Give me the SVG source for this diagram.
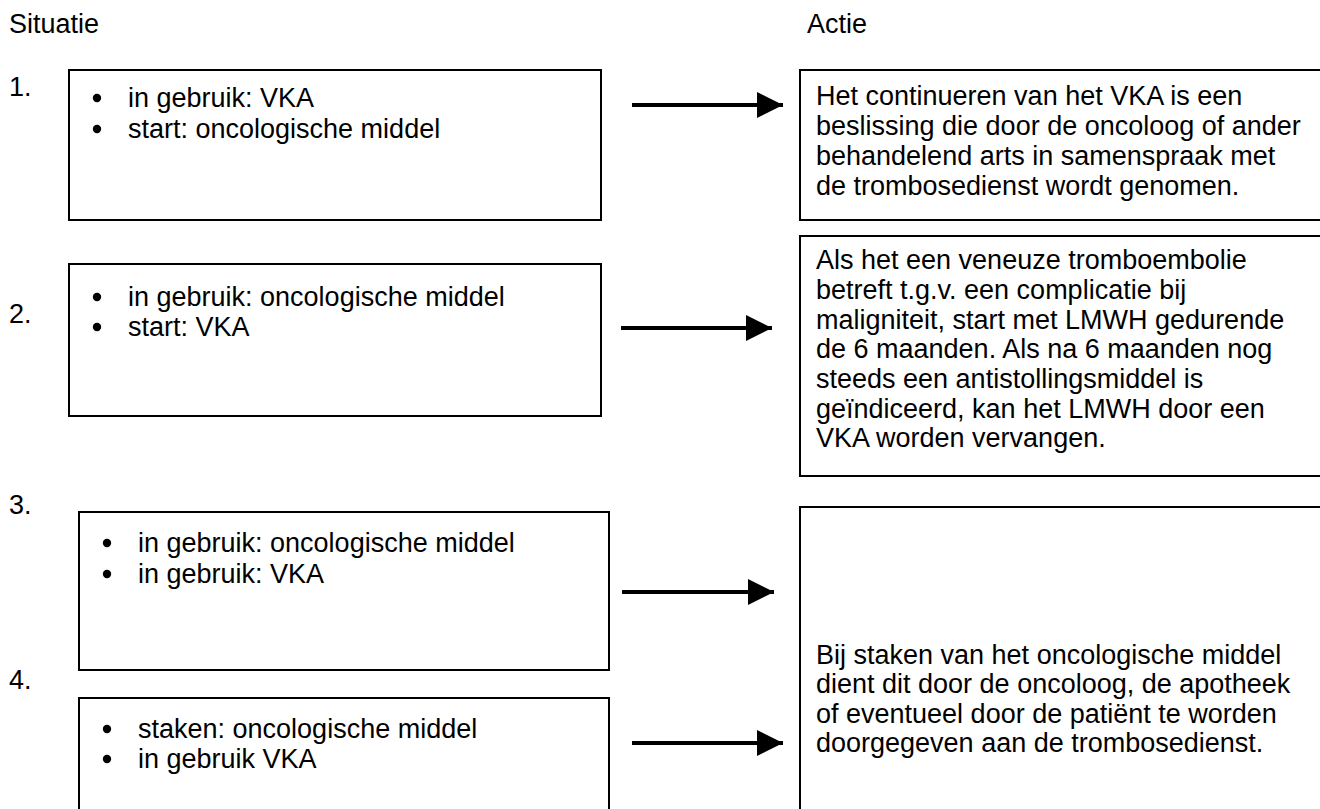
<svg xmlns="http://www.w3.org/2000/svg" width="1320" height="809" viewBox="0 0 1320 809">
<defs>
<style>
text{font-family:"Liberation Sans",Arial,sans-serif;font-size:27px;fill:#000}
.box{fill:#fff;stroke:#000;stroke-width:2}
.arr{stroke:#000;stroke-width:4;fill:none}
.dot{fill:#000}
</style>
<marker id="ah" markerUnits="userSpaceOnUse" markerWidth="26" markerHeight="26" refX="26" refY="13" orient="auto"><path d="M0,0 L26,13 L0,26 Z" fill="#000"/></marker>
</defs>
<rect width="1320" height="809" fill="#fff"/>
<g id="headers">
<text x="9" y="33">Situatie</text>
<text x="807" y="33">Actie</text>
</g>
<g id="s1">
<text x="9" y="96">1.</text>
<rect class="box" x="69" y="70" width="532" height="150"/>
<circle class="dot" cx="97" cy="98" r="4.2"/><circle class="dot" cx="97" cy="129" r="4.2"/>
<text x="128" y="107">in gebruik: VKA</text>
<text x="128" y="138">start: oncologische middel</text>
</g>
<g id="s2">
<text x="9" y="323">2.</text>
<rect class="box" x="69" y="264" width="532" height="152"/>
<circle class="dot" cx="97" cy="297" r="4.2"/><circle class="dot" cx="97" cy="327" r="4.2"/>
<text x="128" y="306">in gebruik: oncologische middel</text>
<text x="128" y="336">start: VKA</text>
</g>
<g id="s3">
<text x="9" y="514">3.</text>
<rect class="box" x="79" y="512" width="530" height="158"/>
<circle class="dot" cx="107" cy="543" r="4.2"/><circle class="dot" cx="107" cy="574" r="4.2"/>
<text x="138" y="552">in gebruik: oncologische middel</text>
<text x="138" y="583">in gebruik: VKA</text>
</g>
<g id="s4">
<text x="9" y="689">4.</text>
<rect class="box" x="79" y="698" width="530" height="130"/>
<circle class="dot" cx="107" cy="729" r="4.2"/><circle class="dot" cx="107" cy="759" r="4.2"/>
<text x="138" y="738">staken: oncologische middel</text>
<text x="138" y="768">in gebruik VKA</text>
</g>
<g id="a1">
<rect class="box" x="800" y="70" width="540" height="150"/>
<text x="816" y="105">Het continueren van het VKA is een</text>
<text x="816" y="135">beslissing die door de oncoloog of ander</text>
<text x="816" y="165">behandelend arts in samenspraak met</text>
<text x="816" y="195">de trombosedienst wordt genomen.</text>
</g>
<g id="a2">
<rect class="box" x="800" y="236" width="540" height="240"/>
<text x="816" y="269">Als het een veneuze tromboembolie</text>
<text x="816" y="299">betreft t.g.v. een complicatie bij</text>
<text x="816" y="329">maligniteit, start met LMWH gedurende</text>
<text x="816" y="358">de 6 maanden. Als na 6 maanden nog</text>
<text x="816" y="388">steeds een antistollingsmiddel is</text>
<text x="816" y="418">geïndiceerd, kan het LMWH door een</text>
<text x="816" y="447">VKA worden vervangen.</text>
</g>
<g id="a3">
<rect class="box" x="800" y="507" width="540" height="320"/>
<text x="816" y="664">Bij staken van het oncologische middel</text>
<text x="816" y="693">dient dit door de oncoloog, de apotheek</text>
<text x="816" y="723">of eventueel door de patiënt te worden</text>
<text x="816" y="752">doorgegeven aan de trombosedienst.</text>
</g>
<g id="connectors">
<line class="arr" x1="632" y1="105" x2="783" y2="105" marker-end="url(#ah)"/>
<line class="arr" x1="621" y1="328" x2="772" y2="328" marker-end="url(#ah)"/>
<line class="arr" x1="622" y1="592" x2="774" y2="592" marker-end="url(#ah)"/>
<line class="arr" x1="632" y1="743" x2="783" y2="743" marker-end="url(#ah)"/>
</g>
</svg>
